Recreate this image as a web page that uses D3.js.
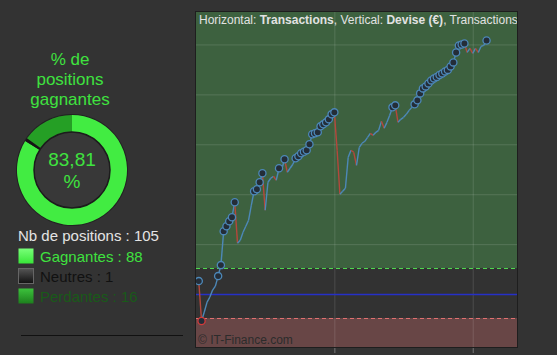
<!DOCTYPE html>
<html>
<head>
<meta charset="utf-8">
<script src="https://cdn.jsdelivr.net/npm/d3@7"></script>
<style>
  body { margin: 0; background: #333333; }
  svg { display: block; font-family: "Liberation Sans", Arial, sans-serif; }
</style>
</head>
<body>
<div class="canvas"></div>
<script>
// data
const equity = [
  26, -54, -36, -16, -6, 8, 16, 36, 58, 126,
  136, 146, 154, 184, 102, 108, 124, 136, 148, 178,
  206, 210, 224, 242, 168, 224, 232, 236, 228, 252,
  250, 270, 244, 252, 260, 272, 276, 282, 285, 288,
  300, 320, 322, 324, 336, 340, 344, 350, 360, 364,
  288, 200, 206, 212, 274, 288, 284, 258, 294, 302,
  306, 314, 322, 318, 324, 328, 346, 332, 344, 358,
  374, 378, 344, 350, 354, 360, 368, 374, 380, 388,
  402, 412, 416, 422, 428, 432, 435, 439, 442, 446,
  449, 456, 464, 484, 498, 500, 502, 484, 492, 482,
  492, 484, 496, 498, 508
]
const xTicks = [50, 100]
const yTicks = [100, 200, 300, 400, 500]
const levels = { high: 52, zero: 0, low: -48 }
const pieLabels = ["Gagnantes", "Neutres", "Perdantes"]
const pieCounts = [88, 1, 16]

const W = 557, H = 355
const svg = d3.select(".canvas")
    .append("svg")
    .attr("width", W)
    .attr("height", H)

const defs = svg.append("defs")

// ---------- left panel: donut ----------
const total = d3.sum(pieCounts)
const winPct = (pieCounts[0] / total * 100).toFixed(2).replace(".", ",")

const title = svg.append("text")
    .attr("text-anchor", "middle")
    .attr("fill", "#3fe23f")
    .style("font-size", "17px")
;["% de", "positions", "gagnantes"].forEach((t, i) => {
    title.append("tspan").attr("x", 70).attr("y", 65 + i * 20).text(t)
})

const cx = 72, cy = 170, rOut = 55, rIn = 38

const ringColors = [
    ["#33d833", "#70ff70", "#42ec42"],
    ["#151515", "#2a2a2a", "#151515"],
    ["#229a22", "#40c840", "#259f25"]
]
ringColors.forEach((c, i) => {
    const g = defs.append("radialGradient")
        .attr("id", "ring" + i)
        .attr("gradientUnits", "userSpaceOnUse")
        .attr("cx", cx).attr("cy", cy).attr("r", rOut)
    g.append("stop").attr("offset", rIn / rOut).attr("stop-color", c[0])
    g.append("stop").attr("offset", 0.84).attr("stop-color", c[1])
    g.append("stop").attr("offset", 1).attr("stop-color", c[2])
})

const pie = d3.pie().sort(null)
const arc = d3.arc().innerRadius(rIn).outerRadius(rOut)

const donut = svg.append("g").attr("transform", `translate(${cx}, ${cy})`)
donut.append("circle").attr("r", rOut + 1).attr("fill", "#222")
donut.selectAll("path")
    .data(pie(pieCounts))
    .enter()
    .append("path")
    .attr("d", arc)
    .attr("fill", (d, i) => `url(#ring${i})`)
donut.append("circle")
    .attr("r", rIn)
    .attr("fill", "#383838")
    .attr("stroke", "#1c1c1c")
    .attr("stroke-width", 1.5)

donut.append("text")
    .attr("text-anchor", "middle")
    .attr("y", -4)
    .attr("fill", "#3fe23f")
    .style("font-size", "19px")
    .text(winPct)
donut.append("text")
    .attr("text-anchor", "middle")
    .attr("y", 18)
    .attr("fill", "#3fe23f")
    .style("font-size", "19px")
    .text("%")

// ---------- left panel: legend ----------
svg.append("text")
    .attr("x", 18).attr("y", 241)
    .attr("fill", "#e4e4e4")
    .style("font-size", "15px")
    .text("Nb de positions : " + total)

const legendText = ["#3fe23f", "#111111", "#195a19"]
const legendBox = [["#79ff79", "#38e638"], ["#555", "#111"], ["#3cc23c", "#1d7f1d"]]
legendBox.forEach((c, i) => {
    const g = defs.append("linearGradient")
        .attr("id", "leg" + i)
        .attr("x1", 0).attr("y1", 0).attr("x2", 0).attr("y2", 1)
    g.append("stop").attr("offset", 0).attr("stop-color", c[0])
    g.append("stop").attr("offset", 1).attr("stop-color", c[1])
})

const legend = svg.append("g")
legend.selectAll("rect")
    .data(pieLabels)
    .enter()
    .append("rect")
    .attr("x", 18.5)
    .attr("y", (d, i) => 248.5 + i * 20)
    .attr("width", 15)
    .attr("height", 15)
    .attr("fill", (d, i) => `url(#leg${i})`)
    .attr("stroke", (d, i) => i == 1 ? "#666" : "none")
legend.selectAll("text")
    .data(pieLabels)
    .enter()
    .append("text")
    .attr("x", 40)
    .attr("y", (d, i) => 262 + i * 20)
    .attr("fill", (d, i) => legendText[i])
    .style("font-size", "15px")
    .text((d, i) => d + " : " + pieCounts[i])

svg.append("line")
    .attr("x1", 21).attr("x2", 183)
    .attr("y1", 335.5).attr("y2", 335.5)
    .attr("stroke", "#111")

// ---------- right panel: equity chart ----------
const plot = { left: 196, right: 517, top: 12, bottom: 347 }

const x = d3.scaleLinear()
    .domain([0, 116])
    .range([plot.left, plot.right])
const y = d3.scaleLinear()
    .domain([-106, 565])
    .range([plot.bottom, plot.top])

defs.append("clipPath").attr("id", "plotclip")
    .append("rect")
    .attr("x", plot.left).attr("y", plot.top)
    .attr("width", plot.right - plot.left)
    .attr("height", plot.bottom - plot.top)

const graph = svg.append("g").attr("clip-path", "url(#plotclip)")

// zones
graph.append("rect")
    .attr("x", plot.left).attr("width", plot.right - plot.left)
    .attr("y", plot.top).attr("height", y(levels.high) - plot.top)
    .attr("fill", "#3d613f")
graph.append("rect")
    .attr("x", plot.left).attr("width", plot.right - plot.left)
    .attr("y", y(levels.high)).attr("height", y(levels.low) - y(levels.high))
    .attr("fill", "#323232")
graph.append("rect")
    .attr("x", plot.left).attr("width", plot.right - plot.left)
    .attr("y", y(levels.low)).attr("height", plot.bottom - y(levels.low))
    .attr("fill", "#684646")

// grid
graph.append("g")
    .attr("transform", `translate(0, ${plot.bottom})`)
    .call(d3.axisBottom(x).tickValues(xTicks).tickSize(-(plot.bottom - plot.top)).tickFormat(""))
    .call(g => g.select(".domain").remove())
    .call(g => g.selectAll("line").attr("stroke", "#fff").attr("stroke-opacity", 0.13))
graph.append("g")
    .attr("transform", `translate(${plot.left}, 0)`)
    .call(d3.axisLeft(y).tickValues(yTicks).tickSize(-(plot.right - plot.left)).tickFormat(""))
    .call(g => g.select(".domain").remove())
    .call(g => g.selectAll("line").attr("stroke", "#fff").attr("stroke-opacity", 0.13))

// level lines
graph.append("line")
    .attr("x1", plot.left).attr("x2", plot.right)
    .attr("y1", Math.round(y(levels.high)) + 0.5).attr("y2", Math.round(y(levels.high)) + 0.5)
    .attr("stroke", "#4fd84f").attr("stroke-dasharray", "4,3")
graph.append("line")
    .attr("x1", plot.left).attr("x2", plot.right)
    .attr("y1", Math.round(y(levels.low)) + 0.5).attr("y2", Math.round(y(levels.low)) + 0.5)
    .attr("stroke", "#e07070").attr("stroke-dasharray", "4,3")
graph.append("line")
    .attr("x1", plot.left).attr("x2", plot.right)
    .attr("y1", Math.round(y(levels.zero)) + 0.5).attr("y2", Math.round(y(levels.zero)) + 0.5)
    .attr("stroke", "#2630c8").attr("stroke-width", 1.5)

// equity line, coloured by direction
const points = equity.map((v, i) => ({ t: i + 1, v: v }))
const line = d3.line().x(d => x(d.t)).y(d => y(d.v))
graph.selectAll(".seg")
    .data(d3.pairs(points))
    .enter()
    .append("path")
    .attr("class", "seg")
    .attr("d", d => line(d))
    .attr("fill", "none")
    .attr("stroke", d => d[1].v < d[0].v ? "#b5473c" : "#4d88b8")
    .attr("stroke-width", 1.4)

// dots on new highs, red dot on lowest point
let best = -Infinity
const highs = points.filter(d => { if (d.v > best) { best = d.v; return true } return false })
const low = points.reduce((a, b) => b.v < a.v ? b : a)

graph.selectAll(".hi")
    .data(highs)
    .enter()
    .append("circle")
    .attr("class", "hi")
    .attr("cx", d => x(d.t))
    .attr("cy", d => y(d.v))
    .attr("r", 3.6)
    .attr("fill", "#242d38")
    .attr("stroke", "#4d88b8")
    .attr("stroke-width", 1.3)
graph.append("circle")
    .attr("cx", x(low.t))
    .attr("cy", y(low.v))
    .attr("r", 3.6)
    .attr("fill", "#242d38")
    .attr("stroke", "#d23a3a")
    .attr("stroke-width", 1.3)

// header text
const head = graph.append("text")
    .attr("x", plot.left + 3).attr("y", 24)
    .attr("fill", "#e2e2e2")
    .style("font-size", "12px")
head.append("tspan").text("Horizontal: ")
head.append("tspan").attr("font-weight", "bold").text("Transactions")
head.append("tspan").text(", Vertical: ")
head.append("tspan").attr("font-weight", "bold").text("Devise (€)")
head.append("tspan").text(", Transactions")

graph.append("text")
    .attr("x", plot.left + 2).attr("y", 344)
    .attr("fill", "#2c2c2c")
    .style("font-size", "12px")
    .text("© IT-Finance.com")

// frame and ticks
svg.append("rect")
    .attr("x", plot.left - 0.5).attr("y", plot.top - 0.5)
    .attr("width", plot.right - plot.left + 1)
    .attr("height", plot.bottom - plot.top + 1)
    .attr("fill", "none")
    .attr("stroke", "#1e1e1e")

svg.append("g")
    .attr("transform", `translate(0, ${plot.bottom + 1})`)
    .call(d3.axisBottom(x).tickValues(xTicks).tickSize(5).tickFormat(""))
    .call(g => g.select(".domain").remove())
    .call(g => g.selectAll("line").attr("stroke", "#777"))
</script>
</body>
</html>
